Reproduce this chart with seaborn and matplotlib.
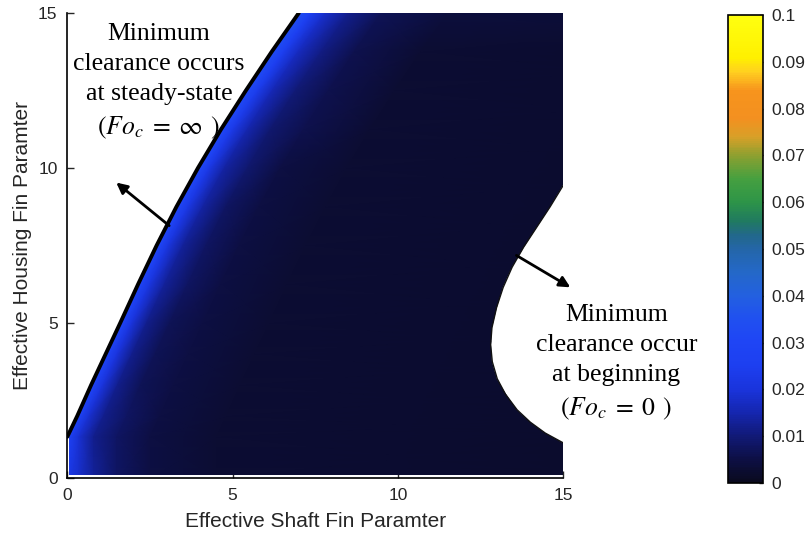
import numpy as np
import matplotlib
matplotlib.use("Agg")
import matplotlib.pyplot as plt
from matplotlib.colors import LinearSegmentedColormap
from matplotlib.patches import Polygon
import seaborn as sns

# ---- data -------------------------------------------------------------
# left edge of the feasible region (steady-state limit)
left_y = [0.0, 1.33, 2.0, 3.0, 4.0, 5.0, 6.25, 7.5, 8.75, 10.0, 11.25, 12.5, 13.75, 15.0]
left_x = [0.0, 0.0, 0.3, 0.72, 1.16, 1.6, 2.14, 2.7, 3.3, 3.95, 4.65, 5.4, 6.18, 7.0]

# right edge of the feasible region (initial-transient limit)
right_x = [15.0, 14.6, 14.2, 13.8, 13.45, 13.18, 12.98, 12.84, 12.8, 12.85, 13.0,
           13.25, 13.6, 14.0, 14.45, 15.0]
right_y = [9.45, 8.75, 8.1, 7.45, 6.8, 6.15, 5.5, 4.85, 4.3, 3.75, 3.2,
           2.7, 2.2, 1.8, 1.45, 1.13]

# distance to the right of the left edge at which the field is sampled
offsets = [0.0, 0.1, 0.35, 0.8, 1.5, 2.5, 4.5, 16.0]

# clearance values: one row per left_y level, one column per offset
clearance = [
    [0.022, 0.021, 0.018, 0.013, 0.008, 0.005, 0.003, 0.002],
    [0.028, 0.025, 0.019, 0.012, 0.008, 0.005, 0.003, 0.002],
    [0.029, 0.026, 0.019, 0.012, 0.008, 0.005, 0.003, 0.002],
    [0.030, 0.027, 0.020, 0.012, 0.007, 0.005, 0.003, 0.002],
    [0.031, 0.027, 0.020, 0.012, 0.007, 0.005, 0.003, 0.002],
    [0.032, 0.028, 0.020, 0.012, 0.007, 0.005, 0.003, 0.002],
    [0.032, 0.028, 0.021, 0.013, 0.008, 0.005, 0.003, 0.002],
    [0.033, 0.029, 0.021, 0.013, 0.008, 0.005, 0.003, 0.002],
    [0.033, 0.029, 0.022, 0.014, 0.008, 0.005, 0.003, 0.002],
    [0.034, 0.030, 0.022, 0.014, 0.009, 0.005, 0.003, 0.002],
    [0.034, 0.030, 0.023, 0.015, 0.009, 0.006, 0.003, 0.002],
    [0.035, 0.031, 0.024, 0.016, 0.010, 0.006, 0.003, 0.002],
    [0.036, 0.032, 0.025, 0.017, 0.011, 0.006, 0.003, 0.002],
    [0.037, 0.033, 0.026, 0.018, 0.012, 0.007, 0.004, 0.002],
]

axis_ticks = [0, 5, 10, 15]
cbar_ticks = [0, 0.01, 0.02, 0.03, 0.04, 0.05, 0.06, 0.07, 0.08, 0.09, 0.1]
cbar_labels = ["0", "0.01", "0.02", "0.03", "0.04", "0.05", "0.06", "0.07", "0.08", "0.09", "0.1"]

# ---- style -------------------------------------------------------------
sns.set_style("ticks")
plt.rcParams["font.family"] = ["Liberation Sans", "DejaVu Sans"]
plt.rcParams["mathtext.fontset"] = "stix"

anchors = [
    (0.000, "#0a0a1e"), (0.005, "#0d0f45"), (0.010, "#111a78"), (0.015, "#1526b0"),
    (0.020, "#1a34dc"), (0.025, "#1d3ff0"), (0.030, "#1f45f5"), (0.035, "#2050f0"),
    (0.040, "#2360e0"), (0.045, "#2468c8"), (0.050, "#2466a8"), (0.053, "#22688a"),
    (0.056, "#207a60"), (0.060, "#2d9448"), (0.065, "#45a040"), (0.070, "#8ca030"),
    (0.074, "#d8a028"), (0.078, "#f39020"), (0.084, "#f7941d"), (0.088, "#ffd020"),
    (0.091, "#fff000"), (0.100, "#ffff10"),
]
cmap = LinearSegmentedColormap.from_list("clear", [(v / 0.1, c) for v, c in anchors])

fig = plt.figure(figsize=(8.06, 5.43), dpi=100)
ax = fig.add_axes([0.0835, 0.1197, 0.6155, 0.8564])
cax = fig.add_axes([0.9032, 0.1105, 0.0434, 0.8619])

# ---- field ----------------------------------------------------------
X = np.array(left_x)[:, None] + np.array(offsets)[None, :]
Y = np.repeat(np.array(left_y)[:, None], len(offsets), axis=1)
C = np.array(clearance)
mesh = ax.pcolormesh(X, Y, C, cmap=cmap, vmin=0, vmax=0.1, shading="gouraud", zorder=1)

region = ([(0.05, 0.1), (0.05, left_y[1])]
          + list(zip(left_x[2:], left_y[2:]))
          + [(15.0, 15.0)]
          + list(zip(right_x, right_y))
          + [(15.0, 0.1)])
clip = Polygon(region, closed=True, transform=ax.transData, facecolor="none", edgecolor="none")
ax.add_patch(clip)
mesh.set_clip_path(clip)

# boundary curves
sns.lineplot(x=left_x[1:], y=left_y[1:], sort=False, estimator=None, color="black",
             linewidth=2.8, ax=ax, zorder=3)
sns.lineplot(x=right_x, y=right_y, sort=False, estimator=None, color="#111111",
             linewidth=1.0, ax=ax, zorder=3)

ax.set_xlim(0, 15)
ax.set_ylim(0, 15)
ax.set_xticks(axis_ticks)
ax.set_yticks(axis_ticks)
ax.tick_params(direction="in", length=5, width=1, labelsize=12.5, pad=7)
for s in ("top", "right"):
    ax.spines[s].set_visible(False)
for s in ("left", "bottom"):
    ax.spines[s].set_linewidth(1.2)
    ax.spines[s].set_color("black")

ax.set_xlabel("Effective Shaft Fin Paramter", fontsize=15)
ax.set_ylabel("Effective Housing Fin Paramter", fontsize=15)
ax.xaxis.label.set_va("center")
ax.yaxis.label.set_va("center")
ax.xaxis.set_label_coords(0.501, -0.0925)
ax.yaxis.set_label_coords(-0.0913, 0.5)

# annotations
serif = dict(family=["Liberation Serif", "DejaVu Serif"], fontsize=18.5, ha="center",
             va="center", linespacing=1.48, color="black")
ax.text(2.77, 12.78, "Minimum\nclearance occurs\nat steady-state\n$(Fo_c\\;=\\;\\infty\\;\\,)$", **serif)
ax.text(16.6, 3.72, "Minimum\nclearance occur\nat beginning\n$(Fo_c\\;=\\;0\\;\\,)$", **serif)

arrow = dict(arrowstyle="-|>", color="black", lw=2, mutation_scale=16, shrinkA=0, shrinkB=0)
ax.annotate("", xy=(1.48, 9.53), xytext=(3.08, 8.14), arrowprops=arrow, annotation_clip=False)
ax.annotate("", xy=(15.21, 6.15), xytext=(13.58, 7.18), arrowprops=arrow, annotation_clip=False)

# colorbar
cb = fig.colorbar(mesh, cax=cax, ticks=cbar_ticks)
cb.ax.set_yticklabels(cbar_labels)
cb.ax.tick_params(direction="in", length=3, width=1, labelsize=12.5, pad=6)
cb.outline.set_linewidth(1.2)
cb.outline.set_edgecolor("black")

fig.savefig("out.png", dpi=100)
